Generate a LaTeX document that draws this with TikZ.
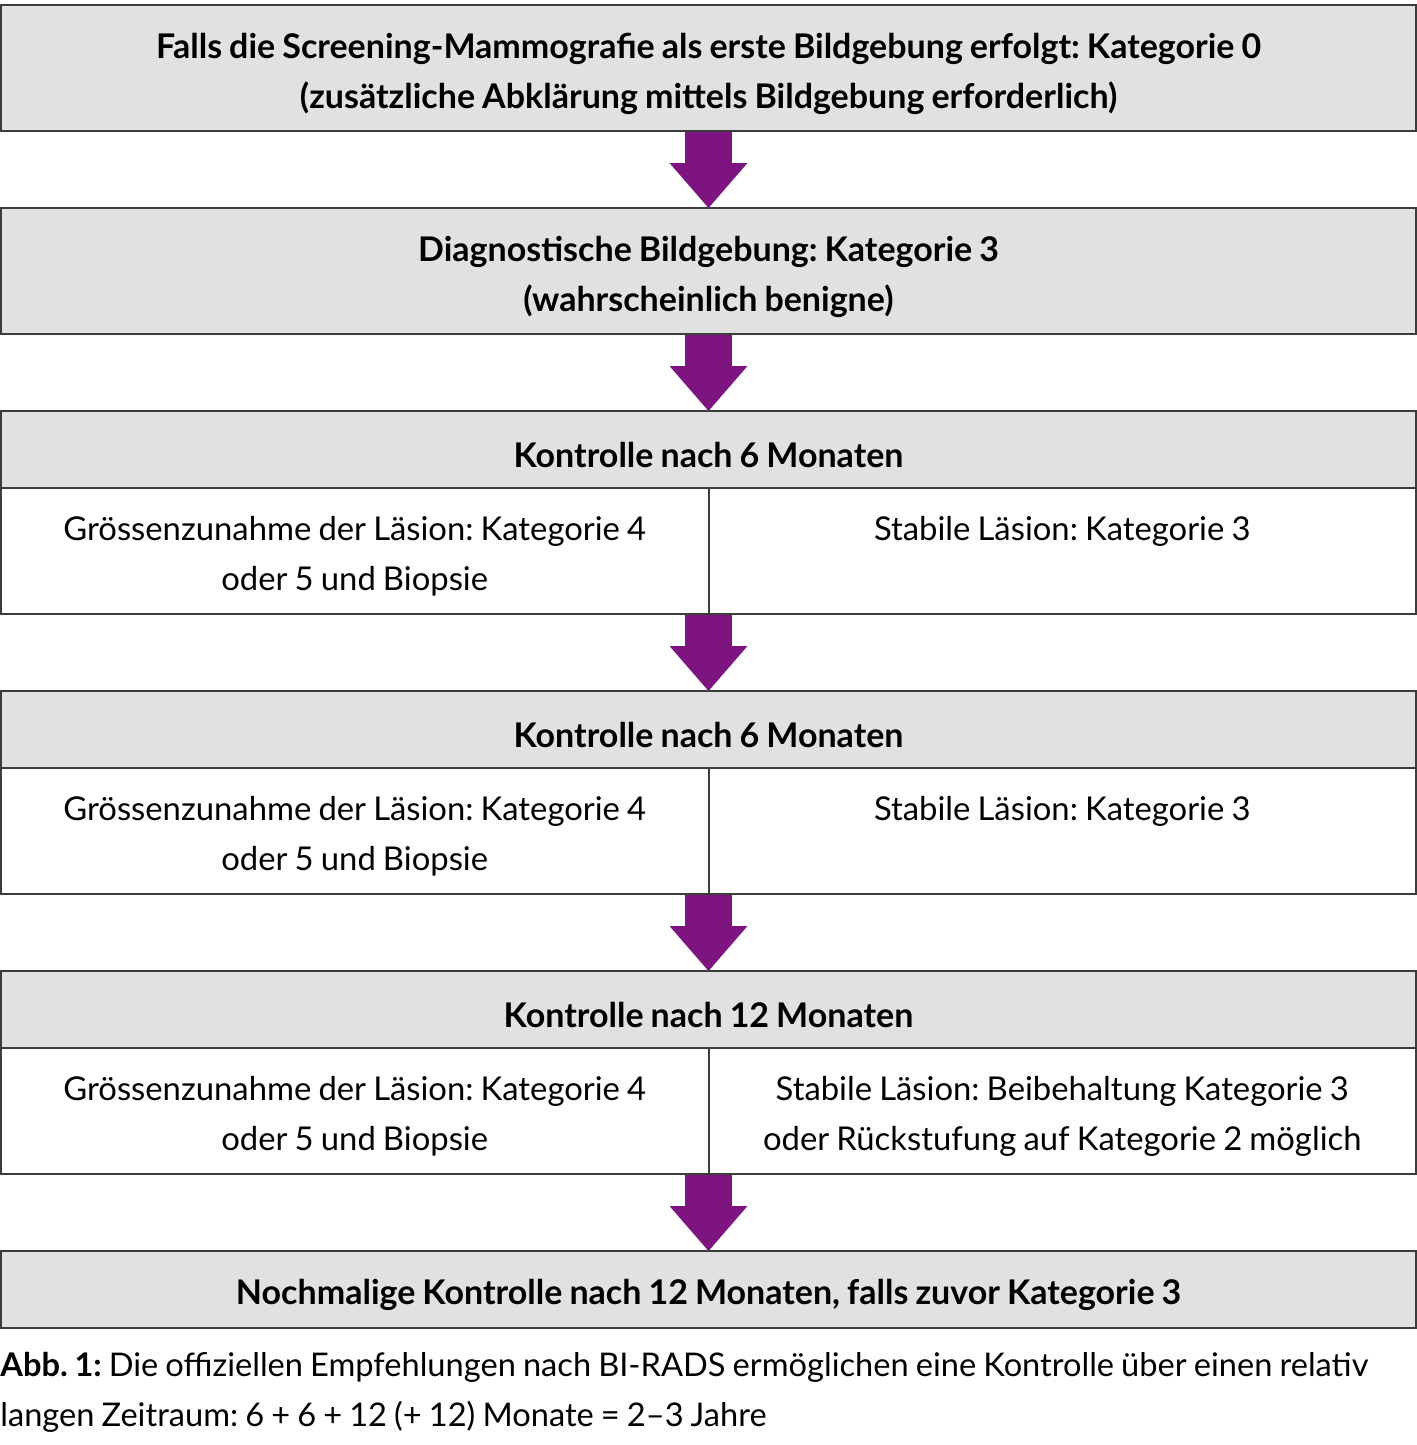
\documentclass[tikz,border=0pt]{standalone}
\usepackage{fontspec}
\setmainfont{Lato}[WordSpace=0.85]
\usetikzlibrary{positioning, arrows.meta}
\frenchspacing

\definecolor{lila}{RGB}{125,20,128}
\definecolor{kastengrau}{RGB}{225,225,225}
\definecolor{rahmen}{RGB}{60,60,60}

\begin{document}
\begin{tikzpicture}[
  node distance=38.5pt and 0pt,
  kasten/.style={draw=rahmen, line width=1pt, fill=kastengrau, outer sep=0pt,
    minimum width=707.5pt, minimum height=63pt, align=center, text height=43.5pt,
    font=\fontsize{17}{25}\selectfont\bfseries},
  kopf/.style={kasten, minimum height=38.5pt, text height=18pt},
  feld/.style={draw=rahmen, line width=1pt, outer sep=0pt, minimum width=353.75pt,
    minimum height=63pt},
  txt/.style={inner sep=0pt, align=center, font=\fontsize{16.4}{25}\selectfont},
  pfeil/.style={draw=lila, line width=23.5pt, shorten <=0.5pt,
    -{Triangle[width=39pt, length=22.5pt, line width=0pt]}}
]
  \useasboundingbox (0,0) rectangle (708.5pt,-722.5pt);

  \node[kasten, anchor=north] (start) at (354.25pt,-2.5pt)
    {Falls die Screening-Mammografie als erste Bildgebung erfolgt: Kategorie 0\\
     (zusätzliche Abklärung mittels Bildgebung erforderlich)};
  \node[kasten, below=of start] (diag)
    {Diagnostische Bildgebung: Kategorie 3\\(wahrscheinlich benigne)};

  % erste Kontrolle
  \node[kopf, below=of diag] (kopfA) {Kontrolle nach 6 Monaten};
  \node[feld, anchor=north west] (linksA) at (kopfA.south west) {};
  \node[feld, anchor=north east] (rechtsA) at (kopfA.south east) {};
  \node[txt, below=14pt of linksA.north] (textLA)
    {Grössenzunahme der Läsion: Kategorie 4\\oder 5 und Biopsie};
  \node[txt, below=14pt of rechtsA.north] (textRA) {Stabile Läsion: Kategorie 3};

  % zweite Kontrolle
  \node[kopf, below=of linksA.south east] (kopfB) {Kontrolle nach 6 Monaten};
  \node[feld, anchor=north west] (linksB) at (kopfB.south west) {};
  \node[feld, anchor=north east] (rechtsB) at (kopfB.south east) {};
  \node[txt, below=14pt of linksB.north] (textLB)
    {Grössenzunahme der Läsion: Kategorie 4\\oder 5 und Biopsie};
  \node[txt, below=14pt of rechtsB.north] (textRB) {Stabile Läsion: Kategorie 3};

  % dritte Kontrolle
  \node[kopf, below=of linksB.south east] (kopfC) {Kontrolle nach 12 Monaten};
  \node[feld, anchor=north west] (linksC) at (kopfC.south west) {};
  \node[feld, anchor=north east] (rechtsC) at (kopfC.south east) {};
  \node[txt, below=14pt of linksC.north] (textLC)
    {Grössenzunahme der Läsion: Kategorie 4\\oder 5 und Biopsie};
  \node[txt, below=14pt of rechtsC.north] (textRC)
    {Stabile Läsion: Beibehaltung Kategorie 3\\oder Rückstufung auf Kategorie 2 möglich};

  \node[kopf, below=of linksC.south east] (ende)
    {Nochmalige Kontrolle nach 12 Monaten, falls zuvor Kategorie 3};

  \node[txt, align=left, anchor=north west, font=\fontsize{16.3}{25}\selectfont]
    (legende) at (0,-676pt)
    {\textbf{Abb. 1:} Die offiziellen Empfehlungen nach BI-RADS ermöglichen eine Kontrolle über einen relativ\\
     langen Zeitraum: 6 + 6 + 12 (+ 12) Monate = 2–3 Jahre};

  \draw[pfeil] (start) -- (diag);
  \draw[pfeil] (diag) -- (kopfA);
  \draw[pfeil] (linksA.south east) -- (kopfB);
  \draw[pfeil] (linksB.south east) -- (kopfC);
  \draw[pfeil] (linksC.south east) -- (ende);
\end{tikzpicture}
\end{document}
